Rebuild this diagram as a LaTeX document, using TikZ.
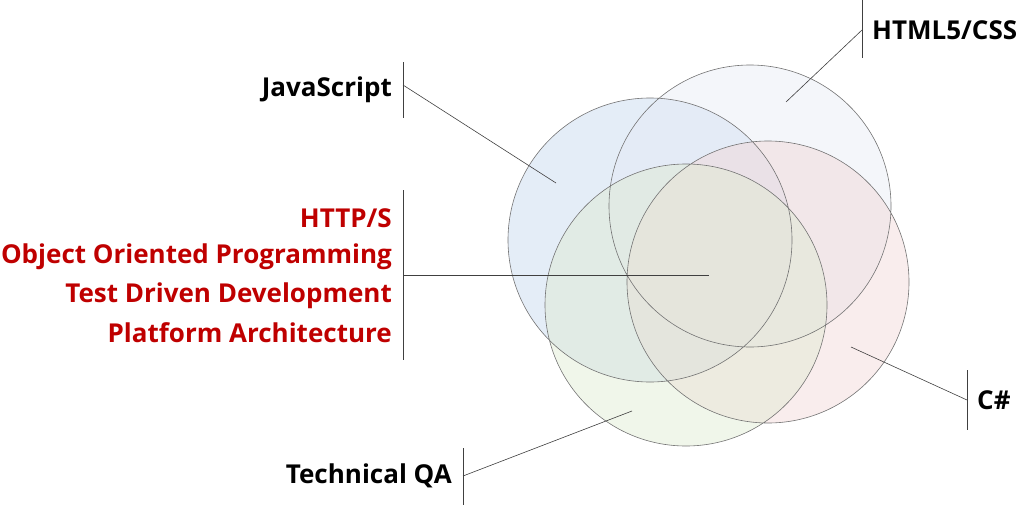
\documentclass[tikz,border=0pt]{standalone}
\usepackage{fontspec}
\setmainfont{Open Sans}
\begin{document}
\begin{tikzpicture}[x=1pt,y=-1pt,
  circ/.style={fill opacity=0.45},
  lead/.style={draw=black!75,line width=0.6pt},
  lbl/.style={font=\bfseries\fontsize{26}{30}\selectfont,inner sep=0pt},
  red/.style={lbl,text=red!75!black,anchor=east}]
\useasboundingbox (0,0) rectangle (1024,506);
\fill[circ,fill={rgb,255:red,196;green,214;blue,238}] (650,240) circle (142);
\fill[circ,fill={rgb,255:red,230;green,234;blue,245}] (750,206) circle (141);
\fill[circ,fill={rgb,255:red,242;green,214;blue,214}] (768,282) circle (141);
\fill[circ,fill={rgb,255:red,222;green,234;blue,208}] (686,305) circle (141);
\draw[black!55,line width=0.6pt] (650,240) circle (142) (750,206) circle (141) (768,282) circle (141) (686,305) circle (141);
\coordinate (js) at (556,183);
\coordinate (ht) at (786,102);
\coordinate (cs) at (851,347);
\coordinate (qa) at (632,411);
\coordinate (ce) at (709,275);
\node[lbl,anchor=east] (tjs) at (392,90) {JavaScript};
\draw[lead] (403,62) -- (403,118);
\draw[lead] (403,85) -- (js);
\node[lbl,anchor=west] (tht) at (872,30) {HTML5/CSS};
\draw[lead] (862,0) -- (862,58);
\draw[lead] (862,30) -- (ht);
\node[lbl,anchor=west] (tcs) at (977,400) {C\#};
\draw[lead] (967,370) -- (967,430);
\draw[lead] (967,400) -- (cs);
\node[lbl,anchor=east] (tqa) at (452,476) {Technical QA};
\draw[lead] (463,448) -- (463,505);
\draw[lead] (463,476) -- (qa);
\node[red] (r1) at (392,218) {HTTP/S};
\node[red] (r2) at (392,257) {Object Oriented Programming};
\node[red] (r3) at (392,296) {Test Driven Development};
\node[red] (r4) at (392,333) {Platform Architecture};
\draw[lead] (403,190) -- (403,360);
\draw[lead] (403,275) -- (ce);
\end{tikzpicture}
\end{document}
